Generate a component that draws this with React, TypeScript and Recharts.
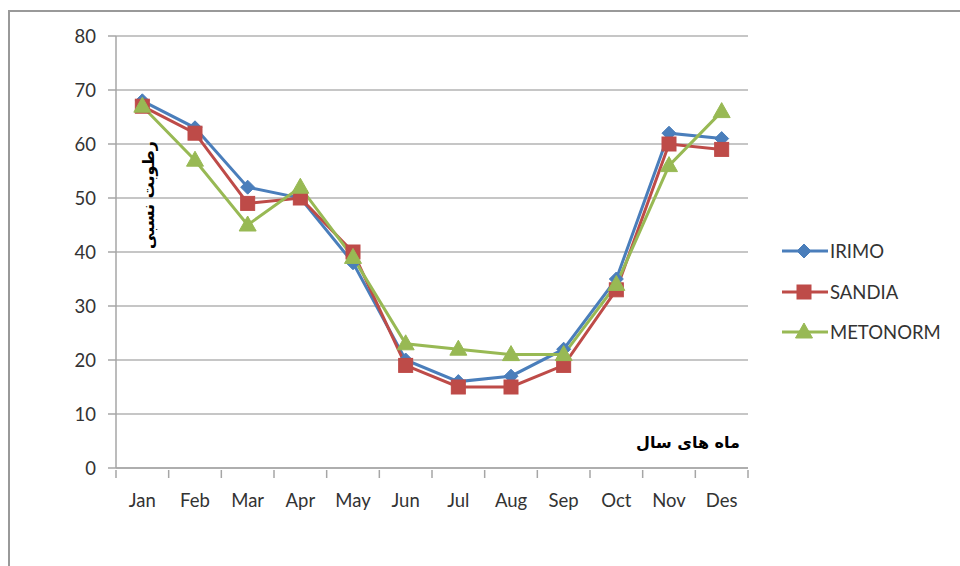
import { LineChart, Line, XAxis, YAxis, CartesianGrid } from 'recharts';

const months = ['Jan', 'Feb', 'Mar', 'Apr', 'May', 'Jun', 'Jul', 'Aug', 'Sep', 'Oct', 'Nov', 'Des'];
const irimo = [68, 63, 52, 50, 38, 20, 16, 17, 22, 35, 62, 61];
const sandia = [67, 62, 49, 50, 40, 19, 15, 15, 19, 33, 60, 59];
const metonorm = [67, 57, 45, 52, 39, 23, 22, 21, 21, 34, 56, 66];
const yTicks = [0, 10, 20, 30, 40, 50, 60, 70, 80];

const data = months.map((m, i) => ({ month: m, IRIMO: irimo[i], SANDIA: sandia[i], METONORM: metonorm[i] }));

const BLUE = '#4A7EBB';
const RED = '#BE4B48';
const GREEN = '#98B954';
const FONT = 'Lato, "Open Sans", sans-serif';
const TEXT = '#333';

const PLOT_LEFT = 116;
const PLOT_RIGHT = 748;
const BAND = (PLOT_RIGHT - PLOT_LEFT) / months.length;

type DotProps = { cx?: number; cy?: number };

const Diamond = ({ cx, cy }: DotProps) => {
  if (cx == null || cy == null) return null;
  const r = 7;
  return <path d={`M${cx},${cy - r}L${cx + r},${cy}L${cx},${cy + r}L${cx - r},${cy}Z`} fill={BLUE} stroke={BLUE} />;
};

const Square = ({ cx, cy }: DotProps) => {
  if (cx == null || cy == null) return null;
  return <rect x={cx - 7} y={cy - 7} width={14} height={14} fill={RED} stroke={RED} />;
};

const Triangle = ({ cx, cy }: DotProps) => {
  if (cx == null || cy == null) return null;
  return <path d={`M${cx},${cy - 9}L${cx + 8.5},${cy + 6}L${cx - 8.5},${cy + 6}Z`} fill={GREEN} stroke={GREEN} />;
};

// category labels plus tick marks on the band edges (Excel style)
const MonthTick = (props: any) => {
  const { x, y, payload } = props;
  const left = x - BAND / 2;
  return (
    <g>
      <line x1={left} y1={y} x2={left} y2={y + 8} stroke="#A6A6A6" strokeWidth={1.5} />
      {payload.index === months.length - 1 && (
        <line x1={x + BAND / 2} y1={y} x2={x + BAND / 2} y2={y + 8} stroke="#A6A6A6" strokeWidth={1.5} />
      )}
      <text x={x} y={y + 37} textAnchor="middle" fill={TEXT} fontSize={18.5} fontFamily={FONT}>
        {payload.value}
      </text>
    </g>
  );
};

const legendItems = [
  { name: 'IRIMO', color: BLUE, Mark: Diamond },
  { name: 'SANDIA', color: RED, Mark: Square },
  { name: 'METONORM', color: GREEN, Mark: Triangle },
];

const LegendBox = () => (
  <div style={{ position: 'absolute', left: 781, top: 231 }}>
    {legendItems.map(({ name, color, Mark }) => (
      <div key={name} style={{ display: 'flex', alignItems: 'center', height: 40.5 }}>
        <svg width={48} height={20}>
          <line x1={1} y1={10} x2={47} y2={10} stroke={color} strokeWidth={3} />
          <Mark cx={23} cy={10} />
        </svg>
        <span style={{ fontFamily: FONT, fontSize: 18.5, color: TEXT, marginLeft: 1 }}>{name}</span>
      </div>
    ))}
  </div>
);

export default function App() {
  return (
    <div style={{ position: 'absolute', left: 0, top: 0, width: 960, height: 566, overflow: 'hidden', background: '#fff' }}>
      <div style={{ position: 'absolute', left: 8, top: 10, width: 2000, height: 2000, border: '2px solid #999' }} />
      <LineChart
        width={960}
        height={566}
        data={data}
        margin={{ top: 36, right: 960 - PLOT_RIGHT, bottom: 58, left: 0 }}
        style={{ position: 'absolute', left: 0, top: 0 }}
      >
        <CartesianGrid vertical={false} stroke="#B3B3B3" strokeWidth={1.5} />
        <XAxis
          dataKey="month"
          height={40}
          padding={{ left: BAND / 2, right: BAND / 2 }}
          axisLine={{ stroke: '#A6A6A6', strokeWidth: 1.5 }}
          tickLine={false}
          tickSize={0}
          tick={<MonthTick />}
          interval={0}
        />
        <YAxis
          width={PLOT_LEFT}
          domain={[0, 80]}
          ticks={yTicks}
          interval={0}
          axisLine={{ stroke: '#A6A6A6', strokeWidth: 1.5 }}
          tickLine={{ stroke: '#A6A6A6', strokeWidth: 1.5 }}
          tickSize={8}
          tickMargin={12}
          tick={{ fill: TEXT, fontSize: 18.5, fontFamily: FONT }}
        />
        <Line dataKey="IRIMO" stroke={BLUE} strokeWidth={3} dot={<Diamond />} activeDot={false} isAnimationActive={false} />
        <Line dataKey="SANDIA" stroke={RED} strokeWidth={3} dot={<Square />} activeDot={false} isAnimationActive={false} />
        <Line dataKey="METONORM" stroke={GREEN} strokeWidth={3} dot={<Triangle />} activeDot={false} isAnimationActive={false} />
      </LineChart>
      <LegendBox />
      <div
        dir="rtl"
        style={{
          position: 'absolute',
          left: 148,
          top: 195,
          transform: 'translate(-50%, -50%) rotate(-90deg)',
          whiteSpace: 'nowrap',
          fontFamily: '"DejaVu Sans", sans-serif',
          fontWeight: 'bold',
          fontSize: 16,
          color: '#000',
        }}
      >
        رطوبت نسبی
      </div>
      <div
        dir="rtl"
        style={{
          position: 'absolute',
          left: 688,
          top: 442,
          transform: 'translate(-50%, -50%)',
          whiteSpace: 'nowrap',
          fontFamily: '"DejaVu Sans", sans-serif',
          fontWeight: 'bold',
          fontSize: 16,
          color: '#000',
        }}
      >
        ماه های سال
      </div>
    </div>
  );
}
